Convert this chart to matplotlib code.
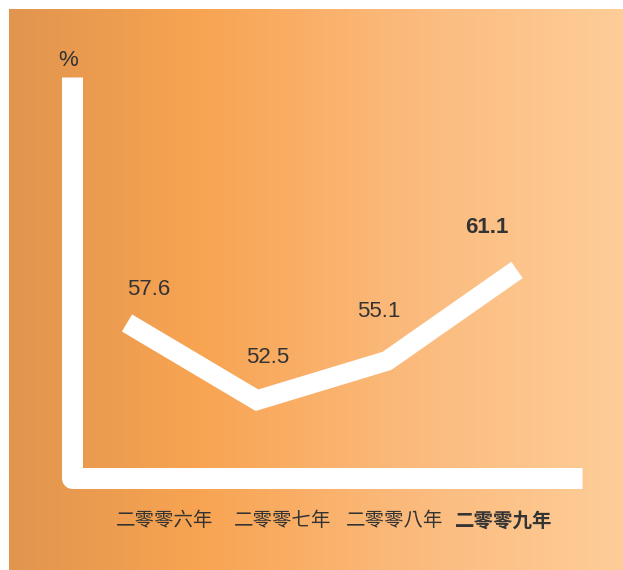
import matplotlib
matplotlib.use("Agg")
import matplotlib.pyplot as plt
import numpy as np
from matplotlib.colors import LinearSegmentedColormap
from matplotlib.lines import Line2D

# ---- data ----
categories = ["二零零六年", "二零零七年", "二零零八年", "二零零九年"]
values = [57.6, 52.5, 55.1, 61.1]
value_labels = ["57.6", "52.5", "55.1", "61.1"]
unit_label = "%"

# ---- layout / style ----
W, H = 623, 570
label_offsets = [(22, 33), (11, 43), (-8, 49), (-30, 42)]   # pixels
cat_label_x = [165, 283, 395, 504]                           # pixels
highlight = 3
txt_color = "#333333"

fig = plt.figure(figsize=(W / 100, H / 100), dpi=100)
fig.patch.set_facecolor("white")

# gradient background
bg = fig.add_axes([9 / W, 0, 1 - 9 / W, 1 - 9 / H])
cmap = LinearSegmentedColormap.from_list(
    "bg", [(0.0, "#e1954e"), (0.31, "#f8a452"), (0.65, "#fbba7c"), (1.0, "#fecd98")])
grad = np.linspace(0, 1, 512).reshape(1, -1)
bg.imshow(grad, aspect="auto", cmap=cmap, extent=[0, 1, 0, 1])
bg.axis("off")

# main axes spanning the figure
ax = fig.add_axes([0, 0, 1, 1])
ax.patch.set_alpha(0)
ax.axis("off")
px_per_unit = 15.15
y_ref_px, y_ref_val = 338.5, 56.575
ax.set_ylim(y_ref_val - (H - y_ref_px) / px_per_unit, y_ref_val + y_ref_px / px_per_unit)
x0_px, dx_px = 127, 130
ax.set_xlim(-x0_px / dx_px, (W - x0_px) / dx_px)

x = np.arange(len(values))
ax.plot(x, values, color="white", lw=14.3, solid_capstyle="butt",
        solid_joinstyle="miter", zorder=3)

# axis frame (white L)
frame = Line2D([71.5 / W, 71.5 / W, 582 / W], [1 - 77 / H, 1 - 477.5 / H, 1 - 477.5 / H],
               transform=ax.transAxes, color="white", lw=15.1,
               solid_capstyle="butt", solid_joinstyle="round", zorder=2)
ax.add_line(frame)

ax.text(68 / W, 1 - 60 / H, unit_label, transform=ax.transAxes, ha="center", va="center",
        fontsize=16, family=["Liberation Sans", "DejaVu Sans"], color=txt_color)

for i, (v, lab) in enumerate(zip(values, value_labels)):
    ax.annotate(lab, (x[i], v), xytext=(label_offsets[i][0] * 0.72, label_offsets[i][1] * 0.72),
                textcoords="offset points", ha="center", va="center", fontsize=16,
                family=["Liberation Sans", "DejaVu Sans"], color=txt_color,
                fontweight="bold" if i == highlight else "normal")

for i, c in enumerate(categories):
    ax.text(cat_label_x[i] / W, 1 - 521 / H, c, transform=ax.transAxes, ha="center", va="center",
            fontsize=14, family=["Noto Sans CJK TC", "DejaVu Sans"], color=txt_color,
            fontweight="bold" if i == highlight else 300)

fig.savefig("out.png", dpi=100, facecolor=fig.get_facecolor())
